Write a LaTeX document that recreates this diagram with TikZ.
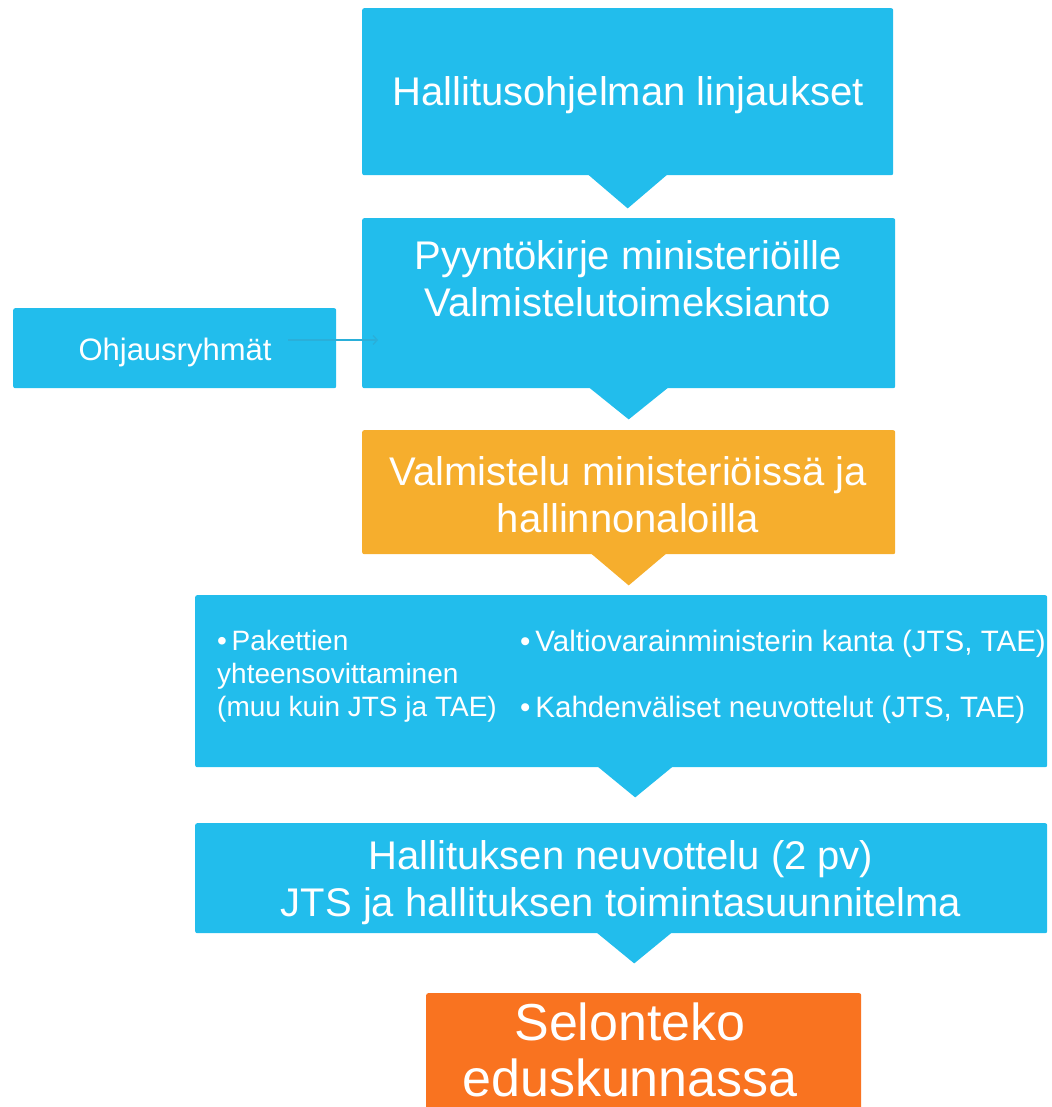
\documentclass[tikz,border=0pt]{standalone}
\usepackage{fontspec}
\setmainfont{Liberation Sans}
\usetikzlibrary{calc,arrows.meta}
\definecolor{cblue}{HTML}{22BDEC}
\definecolor{corange}{HTML}{F6AE2D}
\definecolor{cred}{HTML}{F97320}
\definecolor{cline}{HTML}{2AAFD9}
\begin{document}
\begin{tikzpicture}[x=1pt,y=-1pt,
  box/.style={draw=none, rounded corners=2pt, inner sep=0pt, anchor=north west},
  txt/.style={text=white, align=center, inner sep=0pt},
  big/.style={font=\fontsize{40}{47}\selectfont},
  small/.style={font=\fontsize{28}{33}\selectfont},
  conn/.style={draw=cline, line width=1.3pt, -{Straight Barb[length=4pt,width=9pt]}}]
\useasboundingbox (0,0) rectangle (1051,1107);
% box 1
\node[box, fill=cblue, minimum width=531pt, minimum height=167pt] (b1) at (362,8) {};
\fill[cblue] ($(b1.south)+(-41,-2)$) -- ($(b1.south)+(41,-2)$) -- ($(b1.south)+(0,33)$) -- cycle;
\node[txt, big] (t1) at (628,95) {Hallitusohjelman linjaukset};
% box 2
\node[box, fill=cblue, minimum width=533pt, minimum height=170pt] (b2) at (362,218) {};
\fill[cblue] ($(b2.south)+(-41,-2)$) -- ($(b2.south)+(41,-2)$) -- ($(b2.south)+(0,31)$) -- cycle;
\node[txt, big] (t2) at (628,279) {Pyyntökirje ministeriöille\\Valmistelutoimeksianto};
% ohjausryhmat
\node[box, fill=cblue, minimum width=323pt, minimum height=80pt] (ohj) at (13,308) {};
\node[txt, font=\fontsize{31}{36}\selectfont] (tohj) at (175,352) {Ohjausryhmät};
\coordinate (cs) at (288,340);
\coordinate (ce) at (378,340);
\draw[conn] (cs) -- (ce);
% orange box
\node[box, fill=corange, minimum width=533pt, minimum height=124pt] (b3) at (362,430) {};
\fill[corange] ($(b3.south)+(-39,-2)$) -- ($(b3.south)+(39,-2)$) -- ($(b3.south)+(0,31)$) -- cycle;
\node[txt, big] (t3) at (628,495) {Valmistelu ministeriöissä ja\\hallinnonaloilla};
% wide box
\node[box, fill=cblue, minimum width=852pt, minimum height=172pt] (b4) at (195,595) {};
\fill[cblue] ($(b4.south)+(-25,-2)$) -- ($(b4.south)+(53,-2)$) -- ($(b4.south)+(14,30)$) -- cycle;
\node[txt, small, align=left, anchor=north west] (t4a) at (217,630)
  {•\,Pakettien\\yhteensovittaminen\\(muu kuin JTS ja TAE)};
\node[txt, font=\fontsize{29.5}{33}\selectfont, align=left, anchor=north west] (t4b) at (520,630)
  {•\,Valtiovarainministerin kanta (JTS, TAE)\\[33pt]•\,Kahdenväliset neuvottelut (JTS, TAE)};
% box 5
\node[box, fill=cblue, minimum width=852pt, minimum height=110pt] (b5) at (195,823) {};
\fill[cblue] ($(b5.south)+(-26,-2)$) -- ($(b5.south)+(52,-2)$) -- ($(b5.south)+(13,30)$) -- cycle;
\node[txt, big] (t5) at (621,883) {Hallituksen neuvottelu (2 pv)\\JTS ja hallituksen toimintasuunnitelma};
% final box
\node[box, fill=cred, minimum width=435pt, minimum height=130pt] (b6) at (426,993) {};
\node[txt, font=\fontsize{52}{56}\selectfont] (t6) at (630,1050) {Selonteko\\eduskunnassa};
\end{tikzpicture}
\end{document}
